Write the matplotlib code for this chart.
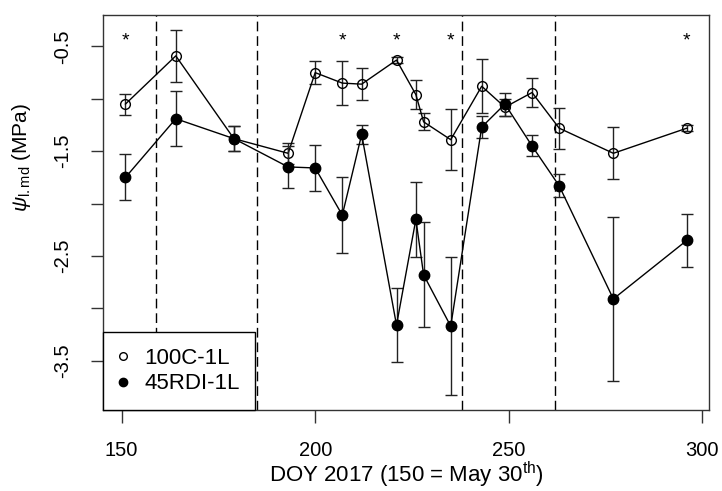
import matplotlib
matplotlib.use("Agg")
import matplotlib.pyplot as plt
from matplotlib.lines import Line2D

plt.rcParams['font.family'] = ['Liberation Sans', 'DejaVu Sans']
plt.rcParams['mathtext.fontset'] = 'custom'
plt.rcParams['mathtext.rm'] = 'Liberation Sans'
plt.rcParams['mathtext.it'] = 'Liberation Sans:italic'

# day of year of each sampling date
doy = [151, 164, 179, 193, 200, 207, 212, 221, 226, 228, 235, 243, 249, 256, 263, 277, 296]

# midday leaf water potential (MPa) and error bar half widths
psi_100c = [-1.05, -0.59, -1.38, -1.52, -0.75, -0.85, -0.86, -0.63, -0.96, -1.22,
            -1.39, -0.88, -1.08, -0.94, -1.28, -1.52, -1.28]
err_100c = [0.10, 0.25, 0.12, 0.10, 0.11, 0.21, 0.15, 0.03, 0.14, 0.08,
            0.29, 0.26, 0.08, 0.135, 0.195, 0.25, 0.03]
psi_45rdi = [-1.75, -1.19, -1.38, -1.65, -1.66, -2.11, -1.34, -3.16, -2.15, -2.68,
             -3.17, -1.27, -1.05, -1.45, -1.83, -2.91, -2.35]
err_45rdi = [0.22, 0.26, 0.12, 0.20, 0.22, 0.36, 0.09, 0.35, 0.36, 0.50,
             0.66, 0.105, 0.11, 0.10, 0.11, 0.78, 0.255]

# dates with significant differences
sig_doy = [151, 207, 221, 235, 296]
# phase boundaries
phase_doy = [159, 185, 238, 262]

fig = plt.figure(figsize=(7.22, 4.91), dpi=100)
ax = fig.add_axes([103 / 722, 81 / 491, 606 / 722, 395 / 491])

for d in phase_doy:
    ax.axvline(d, color='black', lw=1.0, dashes=(7, 3.5), zorder=1)

ax.errorbar(doy, psi_100c, yerr=err_100c, fmt='-o', color='black', lw=1.0,
            ms=7, mfc='none', mec='black', mew=1.0, ecolor='#222222',
            elinewidth=1.0, capsize=4, capthick=1.0, zorder=3)
ax.errorbar(doy, psi_45rdi, yerr=err_45rdi, fmt='-o', color='black', lw=1.0,
            ms=7.5, mfc='black', mec='black', ecolor='#222222',
            elinewidth=1.0, capsize=4, capthick=1.0, zorder=4)

for d in sig_doy:
    ax.text(d, -0.45, '*', ha='center', va='center', fontsize=14)

ax.set_xlim(145.2, 301.7)
ax.set_ylim(-3.97, -0.2)
ax.set_xticks([150, 200, 250, 300])
yt = [-0.5, -1.0, -1.5, -2.0, -2.5, -3.0, -3.5]
ax.set_yticks(yt)
ax.set_yticklabels(['-0.5', '', '-1.5', '', '-2.5', '', '-3.5'],
                   rotation=90, va='center')
ax.tick_params(axis='both', length=9, width=1.0, labelsize=14.5, pad=13,
               color='#333333')
for s in ax.spines.values():
    s.set_linewidth(1.0)
    s.set_color('#333333')

ax.set_xlabel(r'DOY 2017 (150 = May 30$^{\mathrm{th}}$)', fontsize=16)
ax.xaxis.set_label_coords(0.5, -0.125)
ax.set_ylabel(r'$\psi_{\mathrm{l.md}}$ (MPa)', fontsize=15, va='center')
ax.yaxis.set_label_coords(-0.134, 0.64)

handles = [Line2D([], [], ls='none', marker='o', ms=5.5, mfc='none', mec='black'),
           Line2D([], [], ls='none', marker='o', ms=6, mfc='black', mec='black')]
leg = ax.legend(handles, ['100C-1L', '45RDI-1L'], loc='lower left',
                borderaxespad=0, fontsize=16, frameon=True, fancybox=False,
                handlelength=0.4, handletextpad=0.75, borderpad=0.7,
                labelspacing=0.2)
leg.get_frame().set_edgecolor('black')
leg.get_frame().set_linewidth(1.0)
leg.get_frame().set_alpha(1)

fig.savefig('out.png', dpi=100)
